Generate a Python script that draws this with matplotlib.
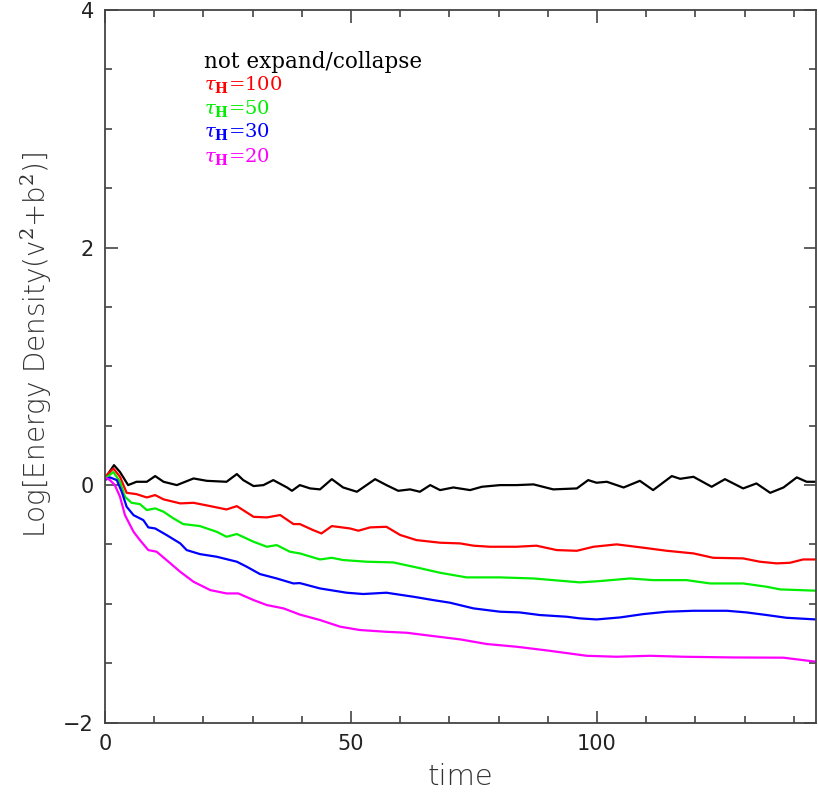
import matplotlib
matplotlib.use("Agg")
import matplotlib.pyplot as plt
from matplotlib.ticker import MultipleLocator

plt.rcParams['mathtext.fontset'] = 'dejavuserif'

# ---- data ----
t_black = [0, 1.83, 3.05, 4.7, 6.4, 8.5, 10.2, 11.9, 14.6, 18.0, 20.7, 24.7, 26.8, 28.1, 30.2, 32.2,
           34.2, 37.0, 38.0, 39.6, 41.7, 43.7, 46.1, 48.4, 51.2, 54.9, 57.2, 59.6, 62.0, 64.0, 66.1,
           68.1, 70.8, 74.2, 76.6, 80.3, 83.7, 87.1, 91.1, 95.9, 98.2, 99.9, 102.0, 105.4, 108.7,
           111.4, 115.2, 116.9, 119.6, 123.3, 126.0, 129.7, 132.4, 135.2, 137.9, 140.6, 142.6, 144.5]
y_black = [0.056, 0.168, 0.11, 0.0, 0.028, 0.028, 0.076, 0.028, 0.0, 0.056, 0.036, 0.028, 0.093, 0.042,
           -0.008, 0.0, 0.042, -0.02, -0.048, 0.0, -0.028, -0.036, 0.05, -0.02, -0.056, 0.05, 0.0,
           -0.048, -0.036, -0.056, 0.0, -0.042, -0.02, -0.042, -0.014, 0.0, 0.0, 0.006, -0.036, -0.028,
           0.042, 0.02, 0.028, -0.02, 0.036, -0.042, 0.076, 0.053, 0.07, -0.014, 0.05, -0.028, 0.014,
           -0.065, -0.02, 0.065, 0.028, 0.028]

t_red = [0, 1.7, 3.05, 4.4, 6.4, 8.5, 10.2, 11.9, 15.3, 18.0, 21.4, 24.7, 26.8, 30.2, 32.9, 35.6, 38.3,
         39.6, 42.3, 44.0, 46.1, 49.8, 51.5, 53.9, 57.2, 60.0, 63.3, 68.1, 72.2, 74.9, 78.2, 83.7, 87.7,
         91.8, 95.9, 99.3, 104.0, 109.4, 114.2, 119.6, 123.6, 129.7, 133.1, 136.5, 139.2, 141.9, 144.5]
y_red = [0.07, 0.14, 0.07, -0.065, -0.076, -0.104, -0.084, -0.12, -0.154, -0.149, -0.177, -0.205, -0.177,
         -0.267, -0.272, -0.252, -0.328, -0.328, -0.379, -0.407, -0.345, -0.365, -0.384, -0.356, -0.351,
         -0.42, -0.463, -0.485, -0.491, -0.51, -0.519, -0.519, -0.51, -0.547, -0.553, -0.519, -0.499,
         -0.527, -0.553, -0.575, -0.612, -0.617, -0.645, -0.659, -0.654, -0.626, -0.626]

t_green = [0, 1.7, 3.05, 4.06, 5.4, 7.1, 8.5, 10.2, 11.9, 13.9, 15.9, 19.3, 22.7, 24.7, 26.8, 30.2, 32.9,
           34.9, 37.6, 39.6, 43.7, 46.1, 48.4, 53.2, 58.6, 63.3, 68.1, 73.5, 80.3, 87.1, 92.5, 96.5,
           100.6, 106.7, 111.4, 118.2, 123.0, 129.7, 134.5, 137.2, 144.5]
y_green = [0.056, 0.11, 0.028, -0.098, -0.149, -0.16, -0.21, -0.196, -0.224, -0.28, -0.328, -0.345,
           -0.393, -0.435, -0.412, -0.477, -0.519, -0.505, -0.561, -0.575, -0.626, -0.612, -0.631, -0.645,
           -0.651, -0.693, -0.738, -0.777, -0.777, -0.786, -0.805, -0.819, -0.808, -0.786, -0.8, -0.8,
           -0.828, -0.828, -0.856, -0.878, -0.889]

t_blue = [0, 1.0, 2.4, 3.4, 4.4, 5.8, 7.8, 8.8, 10.2, 12.5, 15.3, 16.6, 19.3, 22.7, 26.8, 28.8, 31.5,
          34.9, 38.3, 39.6, 43.7, 49.1, 52.5, 57.2, 62.7, 66.7, 70.1, 74.9, 80.3, 84.3, 88.4, 93.8, 96.5,
          99.9, 104.7, 109.4, 114.2, 119.6, 126.4, 130.4, 134.5, 138.5, 144.5]
y_blue = [0.042, 0.065, 0.042, -0.056, -0.182, -0.253, -0.295, -0.356, -0.365, -0.42, -0.491, -0.547,
          -0.581, -0.603, -0.645, -0.687, -0.749, -0.786, -0.828, -0.825, -0.87, -0.906, -0.917, -0.906,
          -0.94, -0.968, -0.99, -1.038, -1.066, -1.072, -1.094, -1.108, -1.122, -1.131, -1.114, -1.086,
          -1.066, -1.058, -1.058, -1.072, -1.094, -1.117, -1.131]

t_mag = [0, 1.0, 2.0, 3.05, 4.06, 5.8, 7.1, 8.8, 10.5, 12.5, 15.3, 18.0, 21.4, 24.7, 27.1, 30.2, 32.9,
         36.3, 39.6, 43.7, 47.8, 51.8, 57.2, 61.3, 66.7, 72.2, 77.6, 83.7, 90.4, 97.9, 104.0, 110.8,
         117.5, 127.7, 137.9, 144.5]
y_mag = [0.065, 0.042, 0.0, -0.098, -0.253, -0.393, -0.463, -0.547, -0.561, -0.631, -0.73, -0.814,
         -0.884, -0.912, -0.912, -0.968, -1.01, -1.038, -1.09, -1.136, -1.192, -1.22, -1.235, -1.243,
         -1.271, -1.299, -1.338, -1.361, -1.395, -1.437, -1.445, -1.437, -1.445, -1.451, -1.453, -1.487]

labels = ["not expand/collapse", r"$\tau_{\mathbf{H}}$=100", r"$\tau_{\mathbf{H}}$=50",
          r"$\tau_{\mathbf{H}}$=30", r"$\tau_{\mathbf{H}}$=20"]
colors = ["black", "#ff0000", "#00ee00", "#0000ff", "#ff00ff"]

fig = plt.figure(figsize=(8.19, 7.93), dpi=100)
ax = fig.add_axes([0.1282, 0.0887, 0.8681, 0.8987])

series = [(t_black, y_black), (t_red, y_red), (t_green, y_green), (t_blue, y_blue), (t_mag, y_mag)]
for (t, y), c in zip(series, colors):
    ax.plot(t, y, color=c, lw=1.6)

ax.set_xlim(0, 144.5)
ax.set_ylim(-2, 4)
ax.xaxis.set_major_locator(MultipleLocator(50))
ax.xaxis.set_minor_locator(MultipleLocator(10))
ax.yaxis.set_major_locator(MultipleLocator(2))
ax.yaxis.set_minor_locator(MultipleLocator(0.5))
ax.tick_params(which='both', direction='in', top=True, right=True, color='#444444',
               labelsize=15, labelcolor='#222222', width=1.2)
ax.tick_params(which='major', length=9)
ax.tick_params(which='minor', length=5)
ax.tick_params(axis='x', pad=8)
ax.tick_params(axis='y', pad=8)
for s in ax.spines.values():
    s.set_color('#444444')
    s.set_linewidth(1.3)

ax.set_xlabel("time", fontsize=21, color='#333333', labelpad=7, fontweight='light')
ax.set_ylabel(r"Log[Energy Density(v$^2$+b$^2$)]", fontsize=20, color='#333333',
              fontweight='light')
ax.yaxis.set_label_coords(-0.072, 0.53)

ys = [0.927, 0.895, 0.862, 0.829, 0.794]
sizes = [15.5, 14, 14, 14, 14]
for lab, c, yy, fs in zip(labels, colors, ys, sizes):
    ax.text(0.139, yy, lab, transform=ax.transAxes, color=c, fontsize=fs,
            family='DejaVu Serif', va='center', ha='left')

fig.savefig("out.png", dpi=100)
